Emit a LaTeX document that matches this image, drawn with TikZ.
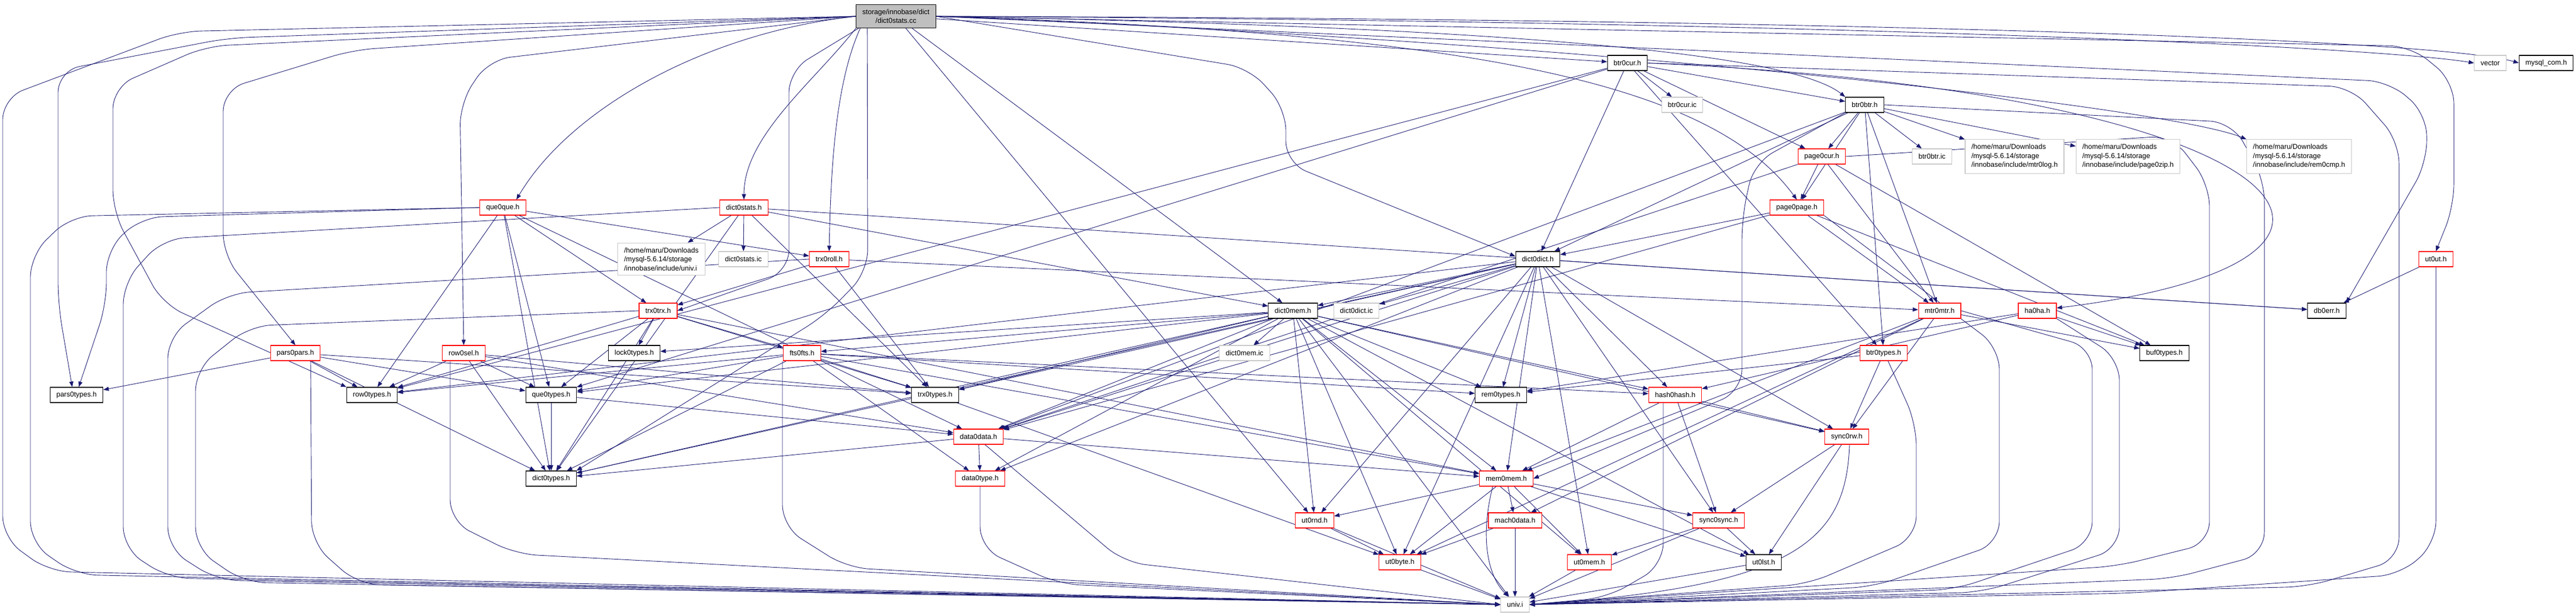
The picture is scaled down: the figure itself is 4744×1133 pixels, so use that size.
\documentclass[tikz,border=0pt]{standalone}
\usepackage{fontspec}
\setmainfont{Liberation Sans}
\usepackage{tikz}
\usetikzlibrary{arrows.meta, positioning}
\definecolor{edgeblue}{HTML}{191970}
\definecolor{rootgray}{HTML}{BFBFBF}
\definecolor{extgray}{HTML}{C8C8C8}
\definecolor{cutred}{HTML}{FF0000}
\pgfdeclarelayer{background}
\pgfsetlayers{background,main}

\begin{document}
\begin{tikzpicture}[x=1pt, y=-1pt,
    hdr/.style={draw=black, line width=1.1pt, fill=white, inner xsep=11.5pt, inner ysep=0pt,
      minimum height=28pt, font=\fontsize{13}{16.5}\selectfont},
    hdrcut/.style={hdr, draw=cutred},
    ext/.style={hdr, draw=extgray},
    longpath/.style={ext, align=left, inner ysep=8.5pt},
    rootfile/.style={hdr, fill=rootgray, align=center, inner ysep=8.5pt},
    dep/.style={draw=edgeblue, line width=0.9pt, -{Triangle[length=10pt,width=7.5pt]}},
    lane/.style={dep, rounded corners=40pt}]
  \useasboundingbox (0,0) rectangle (4744,1133);

  % files, row by row
  \node[rootfile] (root) at (1650,30) {storage/innobase/dict\\/dict0stats.cc};
  \node[ext] (vector) at (4586,116) {vector};
  \node[hdr] (mysqlcom) at (4689,116) {mysql\_com.h};
  \node[hdr] (btrcur) at (2997,116) {btr0cur.h};
  \node[ext] (btrcuric) at (3098,193) {btr0cur.ic};
  \node[hdr] (btrbtr) at (3434,193) {btr0btr.h};
  \node[hdrcut] (pagecur) at (3355,288) {page0cur.h};
  \node[ext] (btrbtric) at (3558,288) {btr0btr.ic};
  \node[longpath] (mtrlog) at (3710,288) {/home/maru/Downloads\\/mysql-5.6.14/storage\\/innobase/include/mtr0log.h};
  \node[longpath] (pagezip) at (3919,288) {/home/maru/Downloads\\/mysql-5.6.14/storage\\/innobase/include/page0zip.h};
  \node[longpath] (remcmp) at (4234,288) {/home/maru/Downloads\\/mysql-5.6.14/storage\\/innobase/include/rem0cmp.h};
  \node[hdrcut] (pagepage) at (3309,382) {page0page.h};
  \node[hdrcut] (queque) at (926,382) {que0que.h};
  \node[hdrcut] (dictstats) at (1370,382) {dict0stats.h};
  \node[longpath] (univpath) at (1218,477) {/home/maru/Downloads\\/mysql-5.6.14/storage\\/innobase/include/univ.i};
  \node[ext] (dictstatsic) at (1369,477) {dict0stats.ic};
  \node[hdrcut] (trxroll) at (1527,477) {trx0roll.h};
  \node[hdr] (dictdict) at (2832,477) {dict0dict.h};
  \node[hdrcut] (utut) at (4486,477) {ut0ut.h};
  \node[hdrcut] (trxtrx) at (1212,572) {trx0trx.h};
  \node[hdr] (dictmem) at (2381,572) {dict0mem.h};
  \node[ext] (dictdictic) at (2498,572) {dict0dict.ic};
  \node[hdrcut] (mtrmtr) at (3572,572) {mtr0mtr.h};
  \node[hdrcut] (haha) at (3752,572) {ha0ha.h};
  \node[hdr] (dberr) at (4285,572) {db0err.h};
  \node[hdrcut] (parspars) at (544,650) {pars0pars.h};
  \node[hdrcut] (rowsel) at (854,650) {row0sel.h};
  \node[hdr] (locktypes) at (1168,650) {lock0types.h};
  \node[hdrcut] (ftsfts) at (1477,650) {fts0fts.h};
  \node[ext] (dictmemic) at (2292,650) {dict0mem.ic};
  \node[hdrcut] (btrtypes) at (3469,650) {btr0types.h};
  \node[hdr] (buftypes) at (3986,650) {buf0types.h};
  \node[hdr] (parstypes) at (141,727) {pars0types.h};
  \node[hdr] (rowtypes) at (685,727) {row0types.h};
  \node[hdr] (quetypes) at (1015,727) {que0types.h};
  \node[hdr] (trxtypes) at (1722,727) {trx0types.h};
  \node[hdr] (remtypes) at (2764,727) {rem0types.h};
  \node[hdrcut] (hashhash) at (3085,727) {hash0hash.h};
  \node[hdrcut] (datadata) at (1802,804) {data0data.h};
  \node[hdrcut] (syncrw) at (3401,804) {sync0rw.h};
  \node[hdr] (dicttypes) at (1015,881) {dict0types.h};
  \node[hdrcut] (datatype) at (1805,881) {data0type.h};
  \node[hdrcut] (memmem) at (2774,881) {mem0mem.h};
  \node[hdrcut] (utrnd) at (2421,958) {ut0rnd.h};
  \node[hdrcut] (machdata) at (2790,958) {mach0data.h};
  \node[hdrcut] (syncsync) at (3165,958) {sync0sync.h};
  \node[hdrcut] (utbyte) at (2578,1035) {ut0byte.h};
  \node[hdrcut] (utmem) at (2927,1035) {ut0mem.h};
  \node[hdr] (utlst) at (3248,1035) {ut0lst.h};
  \node[ext] (univ) at (2790,1113) {univ.i};

  \begin{pgfonlayer}{background}
  % includes of the root file
  \foreach \t in {btrcur,dictmem,utrnd}
    \draw[dep] (root) -- (\t);
  \draw[dep] (root.south west) .. controls (1500,150) and (1370,250) .. (dictstats.north);
  \draw[dep] (root.west) .. controls (1300,60) and (1050,200) .. ([xshift=25pt]queque.north);
  \draw[dep] ([xshift=8pt]root.south west) .. controls (1540,150) and (1530,300) .. (trxroll.north);
  \draw[dep] (root.east) .. controls (2800,50) and (3300,100) .. (btrbtr.north west);
  \draw[dep] (root.east) .. controls (2700,60) and (3150,150) .. (pagepage.north);
  \draw[dep] (root.east) .. controls (3500,40) and (4400,90) .. (vector.west);
  \draw[dep] (root.east) .. controls (3500,35) and (4500,75) .. (mysqlcom.west);
  \draw[dep] (root.east) .. controls (3000,80) and (4000,200) .. (remcmp.north west);
  \draw[lane] (root.west) -- (900,110) -- (847,190) -- (rowsel.north);
  \draw[lane] ([xshift=5pt]root.south west) -- (1453,130) -- (1453,500) -- (trxtrx.east);
  \draw[lane] ([xshift=21pt]root.south west) -- (1598,500) -- (1520,580) -- (dicttypes.north east);
  \draw[lane] (root.west) -- (650,92) -- (411,165) -- (411,470) -- (parspars.north);
  \draw[lane] (root.west) -- (380,85) -- (208,160) -- (208,390) -- (300,560) -- (rowtypes.north west);
  \draw[lane] (root.west) -- (420,70) -- (107,130) -- (107,560) -- ([xshift=-8pt]parstypes.north);
  \draw[lane] (root.west) -- (330,58) -- (5,180) -- (5,990) -- (90,1052) -- (univ.west);
  \draw[lane] (root.east) -- (2300,125) -- (2368,200) -- (2368,300) -- ([yshift=5pt]dictdict.west);
  \draw[lane] (root.east) -- (4440,85) -- (4519,150) -- (4519,380) -- (utut.north);
  \draw[lane] (root.east) -- (4400,150) -- (4469,210) -- (4469,300) -- (dberr.north east);

  % left part
  \foreach \t in {univpath,dictstatsic,dicttypes,trxtypes,dberr,dictmem}
    \draw[dep] (dictstats) -- (\t);
  \foreach \t in {trxroll,trxtrx,quetypes,dicttypes,datadata,rowtypes}
    \draw[dep] (queque) -- (\t);
  \foreach \t in {trxtrx,trxtypes,mtrmtr}
    \draw[dep] (trxroll) -- (\t);
  \foreach \t in {locktypes,ftsfts,quetypes,dicttypes,trxtypes,memmem,rowtypes}
    \draw[dep] (trxtrx) -- (\t);
  \foreach \t in {rowtypes,quetypes,dicttypes,datadata,trxtypes}
    \draw[dep] (rowsel) -- (\t);
  \foreach \t in {parstypes,rowtypes,quetypes,trxtypes,dicttypes}
    \draw[dep] (parspars) -- (\t);
  \foreach \t in {quetypes,dicttypes,rowtypes,datatype,hashhash,memmem,remtypes,trxtypes}
    \draw[dep] (ftsfts) -- (\t);
  \foreach \t in {dicttypes,datadata}
    \draw[dep] (quetypes) -- (\t);
  \draw[dep] (trxtypes) -- (utbyte);
  \foreach \t in {datatype,dicttypes,memmem}
    \draw[dep] (datadata) -- (\t);
  \draw[lane] (queque.west) -- (260,400) -- (196,460) -- (196,560) -- ([xshift=4pt]parstypes.north);

  % middle part
  \foreach \t in {dictmemic,ftsfts,trxtypes,datadata,datatype,dicttypes,locktypes,quetypes,remtypes,hashhash,memmem,utrnd,utbyte,utmem,syncrw,utlst,univ}
    \draw[dep] (dictmem) -- (\t);
  \foreach \t in {dictmem,dictdictic,dicttypes,datatype,datadata,memmem,remtypes,utmem,hashhash,utrnd,utbyte,trxtypes,rowtypes,syncsync,syncrw,dberr}
    \draw[dep] (dictdict) -- (\t);

  % right part
  \foreach \t in {btrcuric,btrbtr,dictdict,pagecur,btrtypes,quetypes,rowtypes}
    \draw[dep] (btrcur) -- (\t);
  \foreach \t in {pagecur,btrbtric,mtrlog,pagezip,pagepage,mtrmtr,btrtypes,dictdict,datadata}
    \draw[dep] (btrbtr) -- (\t);
  \foreach \t in {pagepage,mtrmtr,datadata,buftypes}
    \draw[dep] (pagecur) -- (\t);
  \foreach \t in {dictdict,datadata,mtrmtr,buftypes}
    \draw[dep] (pagepage) -- (\t);
  \foreach \t in {syncrw,memmem,buftypes,utbyte,machdata}
    \draw[dep] (mtrmtr) -- (\t);
  \foreach \t in {hashhash,buftypes,remtypes}
    \draw[dep] (haha) -- (\t);
  \foreach \t in {memmem,syncsync,syncrw}
    \draw[dep] (hashhash) -- (\t);
  \foreach \t in {remtypes,syncrw}
    \draw[dep] (btrtypes) -- (\t);
  \foreach \t in {syncsync,utlst}
    \draw[dep] (syncrw) -- (\t);
  \draw[dep] (utut) -- (dberr);
  \draw[lane] (btrbtr.south west) -- (3230,300) -- (3208,400) -- (3208,720) -- (memmem.east);
  \draw[dep] (btrcur.east) .. controls (4250,170) and (4500,480) .. ([yshift=5pt]haha.east);

  % bottom rows
  \foreach \t in {utlst,utmem,univ}
    \draw[dep] (syncsync) -- (\t);
  \foreach \t in {utrnd,utbyte,machdata,utmem,syncsync,utlst}
    \draw[dep] (memmem) -- (\t);
  \draw[dep] ([xshift=-25pt]memmem.south) .. controls (2725,990) and (2740,1060) .. ([xshift=-12pt]univ.north);
  \foreach \s in {machdata,utrnd}
    \draw[dep] (\s) -- (utbyte);
  \foreach \s in {machdata,utrnd,utbyte,utmem,utlst}
    \draw[dep] (\s) -- (univ);

  % univ.i, routed along the left
  \draw[lane] (queque.west) -- (130,398) -- (56,470) -- (56,1000) -- (140,1058) -- (univ.west);
  \draw[lane] (dictstats.west) -- (300,440) -- (227,520) -- (227,1010) -- (310,1064) -- (univ.west);
  \draw[lane] (trxroll.west) -- (420,540) -- (309,620) -- (309,1010) -- (400,1068) -- (univ.west);
  \draw[lane] (trxtrx.west) -- (460,600) -- (360,680) -- (360,1010) -- (450,1072) -- (univ.west);
  \draw[lane] ([xshift=28pt]parspars.south) -- (574,1000) -- (660,1076) -- (univ.west);
  \draw[lane] ([xshift=-25pt]rowsel.south) -- (829,960) -- (950,1020) -- (univ.west);
  \draw[lane] ([xshift=-36pt]ftsfts.south) -- (1441,970) -- (1560,1045) -- (univ.west);
  \draw[lane] (datatype.south) -- (1805,1010) -- (1950,1075) -- (univ.west);
  \draw[lane] ([xshift=12pt]datadata.south) -- (2070,1035) -- (univ.west);

  % univ.i, routed along the right
  \draw[lane] ([xshift=8pt]btrtypes.south) -- (3529,780) -- (3529,990) -- (3330,1075) -- (univ.east);
  \draw[lane] (pagepage.south east) -- (3682,640) -- (3682,1000) -- (3450,1080) -- (univ.east);
  \draw[lane] (mtrmtr.east) -- (3853,640) -- (3853,1000) -- (3600,1085) -- (univ.east);
  \draw[lane] (haha.south east) -- (3903,660) -- (3903,1010) -- (3650,1090) -- (univ.east);
  \draw[lane] (pagecur.east) -- (4000,250) -- (4069,340) -- (4069,1000) -- (3900,1042) -- (univ.east);
  \draw[lane] (btrbtr.east) -- (4110,225) -- (4170,330) -- (4170,1020) -- (4000,1065) -- (univ.east);
  \draw[lane] (btrcur.east) -- (4330,160) -- (4418,260) -- (4418,1030) -- (4250,1080) -- (univ.east);
  \draw[lane] (utut.south) -- (4486,1000) -- (4420,1058) -- (3920,1092) -- (univ.east);
  \draw[lane] ([xshift=-22pt]hashhash.south) -- (3063,1040) -- (2960,1100) -- (univ.east);
  \draw[dep] ([xshift=5pt]syncrw.south) .. controls (3400,1000) and (3300,1080) .. (univ.east);
  \end{pgfonlayer}
\end{tikzpicture}
\end{document}
